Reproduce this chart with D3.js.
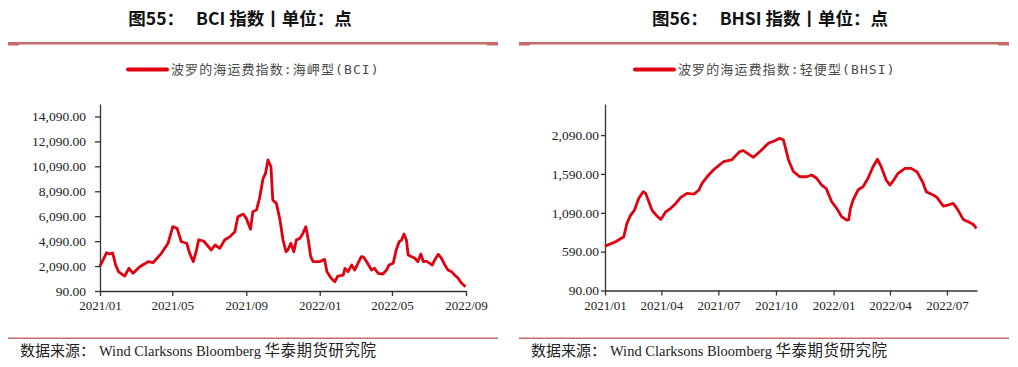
<!DOCTYPE html>
<html>
<head>
<meta charset="utf-8">
<script src="https://d3js.org/d3.v7.min.js"></script>
<style>
	body { margin: 0; background: #fff; }
	svg { display: block; }
</style>
</head>
<body>
<svg id="chart" width="1018" height="367"></svg>
<script>
	// BCI (capesize) index
	var bciDates = ["2021-01-01","2021-01-12","2021-01-17","2021-01-22","2021-01-27","2021-02-01","2021-02-11","2021-02-18","2021-02-25","2021-03-08","2021-03-22","2021-03-30","2021-04-13","2021-04-24","2021-05-02","2021-05-09","2021-05-16","2021-05-25","2021-05-30","2021-06-05","2021-06-10","2021-06-14","2021-06-22","2021-07-05","2021-07-11","2021-07-19","2021-07-27","2021-08-05","2021-08-13","2021-08-18","2021-08-27","2021-09-01","2021-09-08","2021-09-12","2021-09-18","2021-09-23","2021-09-29","2021-10-03","2021-10-07","2021-10-12","2021-10-15","2021-10-21","2021-10-27","2021-11-01","2021-11-06","2021-11-09","2021-11-14","2021-11-19","2021-11-23","2021-11-29","2021-12-04","2021-12-09","2021-12-13","2021-12-17","2021-12-21","2022-01-01","2022-01-09","2022-01-13","2022-01-20","2022-01-26","2022-01-31","2022-02-09","2022-02-12","2022-02-17","2022-02-23","2022-02-28","2022-03-11","2022-03-15","2022-03-20","2022-03-28","2022-04-02","2022-04-08","2022-04-16","2022-04-22","2022-04-26","2022-05-03","2022-05-08","2022-05-13","2022-05-17","2022-05-21","2022-05-25","2022-05-28","2022-06-02","2022-06-08","2022-06-13","2022-06-18","2022-06-22","2022-06-27","2022-07-03","2022-07-07","2022-07-11","2022-07-17","2022-07-22","2022-07-28","2022-08-02","2022-08-08","2022-08-13","2022-08-19","2022-08-24","2022-08-28","2022-08-31"]
	var bciValues = [2090,3160,3060,3140,2180,1620,1290,1910,1510,2040,2440,2360,3110,3920,5250,5120,4040,3920,3110,2450,3300,4200,4100,3380,3780,3510,4180,4450,4850,6050,6260,5920,5040,6470,6590,7530,9130,9530,10600,10060,7390,7120,5780,4180,3240,3380,3920,3240,4180,4310,4710,5250,4180,2850,2440,2440,2630,1640,1110,830,1290,1370,1910,1640,2170,1770,2850,2800,2440,1770,1910,1510,1450,1770,2170,2310,3380,4040,4180,4660,4180,2980,2850,2720,2440,3060,2440,2490,2310,2170,2580,3030,2720,2170,1770,1640,1370,1110,750,570,430]

	// BHSI (handysize) index
	var bhsiDates = ["2021-01-01","2021-01-18","2021-01-31","2021-02-05","2021-02-11","2021-02-17","2021-02-24","2021-03-03","2021-03-07","2021-03-12","2021-03-17","2021-03-25","2021-03-31","2021-04-03","2021-04-08","2021-04-16","2021-04-24","2021-05-02","2021-05-12","2021-05-23","2021-05-31","2021-06-05","2021-06-13","2021-06-23","2021-07-09","2021-07-22","2021-08-04","2021-08-10","2021-08-26","2021-09-08","2021-09-19","2021-09-29","2021-10-07","2021-10-13","2021-10-21","2021-10-29","2021-11-08","2021-11-19","2021-11-27","2021-12-05","2021-12-13","2021-12-20","2021-12-29","2022-01-06","2022-01-14","2022-01-22","2022-01-25","2022-01-28","2022-02-01","2022-02-09","2022-02-17","2022-02-25","2022-03-05","2022-03-12","2022-03-18","2022-03-26","2022-04-01","2022-04-07","2022-04-14","2022-04-25","2022-05-05","2022-05-14","2022-05-23","2022-05-29","2022-06-09","2022-06-15","2022-06-25","2022-07-03","2022-07-11","2022-07-18","2022-07-27","2022-08-04","2022-08-12","2022-08-17"]
	var bhsiValues = [661,717,781,954,1061,1125,1276,1361,1340,1232,1125,1048,1005,1039,1103,1147,1211,1289,1340,1331,1383,1469,1554,1641,1747,1770,1877,1890,1804,1898,1985,2018,2049,2027,1770,1619,1554,1554,1576,1534,1447,1405,1232,1147,1039,996,1000,1147,1254,1383,1426,1534,1683,1779,1683,1512,1447,1512,1598,1662,1662,1619,1490,1361,1318,1289,1177,1190,1211,1134,1005,974,941,889]

	var bciTicks = [90, 2090, 4090, 6090, 8090, 10090, 12090, 14090]
	var bhsiTicks = [90, 590, 1090, 1590, 2090]

	var lineColor = "#e1000f"
	var ruleColor = "#c96b6b"
	var axisColor = "#333"
	var serif = "'Liberation Serif', 'Times New Roman', serif"
	var cjk = "'Noto Sans CJK SC', sans-serif"

	var parse = d3.timeParse("%Y-%m-%d")
	var svg = d3.select("#chart")

	var panels = [
		{
			num: "图55：", name: "BCI 指数丨单位：点", titleX: 240,
			ruleX1: 8, ruleX2: 498,
			legend: "波罗的海运费指数:海岬型(BCI)", legendX: 128,
			dates: bciDates, values: bciValues, ticks: bciTicks,
			start: "2021-01-01", end: "2022-09-01", every: 4,
			yMax: 15090, left: 100, right: 466, top: 104, bottom: 291,
			tickLen: 5, labelPad: 9, sourceX: 20
		},
		{
			num: "图56：", name: "BHSI 指数丨单位：点", titleX: 770,
			ruleX1: 519, ruleX2: 1009,
			legend: "波罗的海运费指数:轻便型(BHSI)", legendX: 635,
			dates: bhsiDates, values: bhsiValues, ticks: bhsiTicks,
			start: "2021-01-01", end: "2022-08-18", every: 3,
			yMax: 2490, left: 605, right: 977, top: 104, bottom: 290.5,
			tickLen: 4, labelPad: 2, sourceX: 531
		}
	]

	function drawPanel(p) {
		var g = svg.append("g")

		// title
		var title = g.append("text")
			.attr("x", p.titleX)
			.attr("y", 24.5)
			.attr("text-anchor", "middle")
			.attr("font-family", cjk)
			.attr("font-weight", "bold")
			.attr("font-size", 17.5)
			.attr("fill", "#111")
		title.append("tspan").text(p.num)
		title.append("tspan").attr("dx", 12).text(p.name)

		// top rule with small end tabs
		g.append("rect").attr("x", p.ruleX1).attr("y", 42).attr("width", p.ruleX2 - p.ruleX1).attr("height", 2.5).attr("fill", ruleColor)
		g.append("rect").attr("x", p.ruleX1).attr("y", 42).attr("width", 11).attr("height", 3.5).attr("fill", ruleColor)
		g.append("rect").attr("x", p.ruleX2 - 11).attr("y", 42).attr("width", 11).attr("height", 3.5).attr("fill", ruleColor)

		// legend
		g.append("line")
			.attr("x1", p.legendX).attr("x2", p.legendX + 39)
			.attr("y1", 69.5).attr("y2", 69.5)
			.attr("stroke", lineColor).attr("stroke-width", 4).attr("stroke-linecap", "round")
		g.append("text")
			.attr("x", p.legendX + 43)
			.attr("y", 74)
			.attr("font-family", "'DejaVu Sans Mono', " + cjk)
			.attr("font-size", 13)
			.attr("letter-spacing", 1.1)
			.attr("fill", "#4a4a4a")
			.text(p.legend)

		var x = d3.scaleTime()
			.domain([parse(p.start), parse(p.end)])
			.range([p.left, p.right])
		var y = d3.scaleLinear()
			.domain([90, p.yMax])
			.range([p.bottom, p.top])

		var xAxis = g.append("g")
			.attr("transform", "translate(0," + p.bottom + ")")
			.call(d3.axisBottom(x)
				.ticks(d3.timeMonth.every(p.every))
				.tickFormat(d3.timeFormat("%Y/%m"))
				.tickSizeInner(5)
				.tickSizeOuter(0)
				.tickPadding(5))
		var yAxis = g.append("g")
			.attr("transform", "translate(" + p.left + ",0)")
			.call(d3.axisLeft(y)
				.tickValues(p.ticks)
				.tickFormat(d3.format(",.2f"))
				.tickSizeInner(p.tickLen)
				.tickSizeOuter(0)
				.tickPadding(p.labelPad))

		;[xAxis, yAxis].forEach(a => {
			a.select(".domain").attr("stroke", axisColor).attr("stroke-width", 1.3)
			a.selectAll(".tick line").attr("stroke", axisColor).attr("stroke-width", 1.3)
			a.selectAll(".tick text")
				.attr("font-family", serif)
				.attr("font-size", 13)
				.attr("fill", "#222")
		})
		yAxis.selectAll(".tick text").attr("font-size", 13.5)

		// series
		var points = p.dates.map((d, i) => ({ date: parse(d), value: p.values[i] }))
		g.append("path")
			.datum(points)
			.attr("fill", "none")
			.attr("stroke", lineColor)
			.attr("stroke-width", 2.8)
			.attr("stroke-linejoin", "round")
			.attr("d", d3.line().x(d => x(d.date)).y(d => y(d.value)))

		// bottom rule and source
		g.append("rect").attr("x", p.ruleX1).attr("y", 337.5).attr("width", p.ruleX2 - p.ruleX1).attr("height", 1.5).attr("fill", ruleColor)
		var src = g.append("text")
			.attr("x", p.sourceX)
			.attr("y", 355.5)
			.attr("fill", "#222")
		src.append("tspan").attr("font-family", cjk).attr("font-size", 15).text("数据来源：")
		src.append("tspan").attr("font-family", serif).attr("font-size", 14.5).attr("dx", 4).text("Wind Clarksons Bloomberg ")
		src.append("tspan").attr("font-family", cjk).attr("font-size", 15.5).attr("letter-spacing", 0.5).text("华泰期货研究院")
	}

	panels.forEach(drawPanel)
</script>
</body>
</html>
